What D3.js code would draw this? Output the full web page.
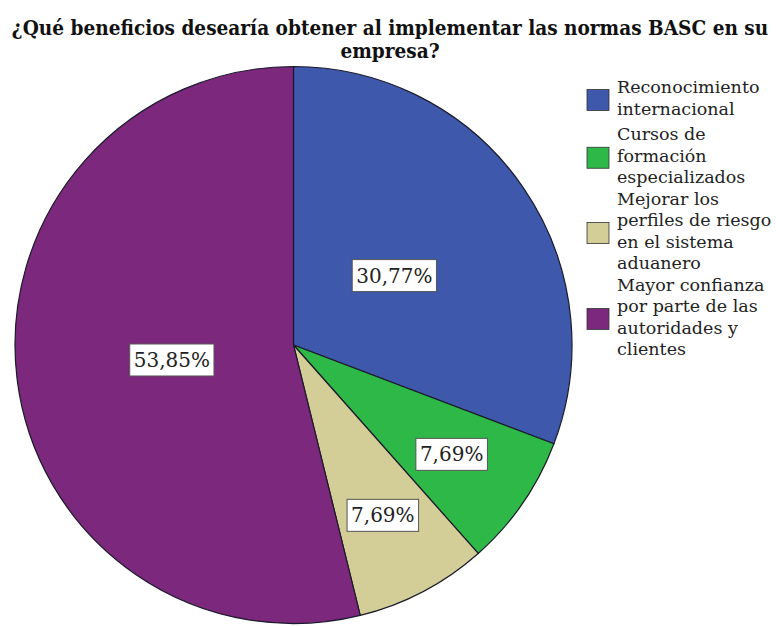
<!DOCTYPE html>
<html>
<head>
<meta charset="utf-8">
<script src="https://cdn.jsdelivr.net/npm/d3@7"></script>
<style>
  body { margin: 0; background: #fff; }
</style>
</head>
<body>
<div id="chart"></div>
<script>
const categories = [
  ["Reconocimiento", "internacional"],
  ["Cursos de", "formación", "especializados"],
  ["Mejorar los", "perfiles de riesgo", "en el sistema", "aduanero"],
  ["Mayor confianza", "por parte de las", "autoridades y", "clientes"]
];
const values = [30.77, 7.69, 7.69, 53.85];
const colors = ["#3e58ac", "#2eb848", "#d3ce97", "#7c287d"];
const titleLines = [
  "¿Qué beneficios desearía obtener al implementar las normas BASC en su",
  "empresa?"
];

const width = 776;
const height = 626;
const cx = 293.5, cy = 345, radius = 278.5;
const serif = "DejaVu Serif, serif";

const svg = d3.select("#chart").append("svg")
  .attr("width", width)
  .attr("height", height)
  .attr("font-family", serif);

// title, squeezed horizontally like the original
const titleG = svg.append("g");
const titleText = titleG.selectAll("text")
  .data(titleLines)
  .join("text")
  .attr("x", 0)
  .attr("y", (d, i) => 35 + i * 23)
  .attr("text-anchor", "middle")
  .attr("font-weight", "bold")
  .attr("font-size", 20)
  .attr("fill", "#111")
  .text(d => d);
const w0 = titleText.nodes()[0].getComputedTextLength();
const sx = 757 / w0;
titleG.attr("transform", `translate(${width / 2 + 2},0) scale(${sx},1)`);

const pie = d3.pie().value(d => d).sort(null);
const arcs = pie(values);
const arc = d3.arc().innerRadius(0).outerRadius(radius);

const g = svg.append("g").attr("transform", `translate(${cx},${cy})`);

g.selectAll("path")
  .data(arcs)
  .join("path")
  .attr("d", arc)
  .attr("fill", (d, i) => colors[i])
  .attr("stroke", "#1a1a2a")
  .attr("stroke-width", 1.2);

// labels: big slices closer to centre, small ones further out
const fmt = v => d3.format(".2f")(v).replace(".", ",") + "%";
const labels = g.selectAll("g.lbl")
  .data(arcs)
  .join("g")
  .attr("class", "lbl")
  .attr("transform", d => {
    const r = d.value > 20 ? radius * 0.44 : radius * 0.69;
    const a = (d.startAngle + d.endAngle) / 2;
    return `translate(${Math.sin(a) * r},${-Math.cos(a) * r})`;
  });

labels.append("text")
  .attr("text-anchor", "middle")
  .attr("dy", "0.36em")
  .attr("font-size", 20)
  .attr("fill", "#222")
  .text(d => fmt(d.value));

labels.each(function () {
  const t = d3.select(this).select("text");
  const b = t.node().getBBox();
  d3.select(this).insert("rect", "text")
    .attr("x", b.x - 4)
    .attr("y", b.y - 4)
    .attr("width", b.width + 8)
    .attr("height", b.height + 8)
    .attr("fill", "#fff")
    .attr("stroke", "#555")
    .attr("stroke-width", 1);
});

// legend
const lineH = 21.5;
const legend = svg.append("g").attr("transform", "translate(587,78)");
let yPos = 0;
categories.forEach((lines, i) => {
  const item = legend.append("g").attr("transform", `translate(0,${yPos})`);
  const blockH = lines.length * lineH;
  item.append("rect")
    .attr("x", 0)
    .attr("y", blockH / 2 - 10)
    .attr("width", 22)
    .attr("height", 21)
    .attr("fill", colors[i])
    .attr("stroke", "#333")
    .attr("stroke-width", 0.8);
  item.selectAll("text")
    .data(lines)
    .join("text")
    .attr("x", 30)
    .attr("y", (d, j) => j * lineH + 15)
    .attr("font-size", 17.5)
    .attr("fill", "#222")
    .text(d => d);
  yPos += blockH + (i === 0 ? 4 : 0);
});
</script>
</body>
</html>
